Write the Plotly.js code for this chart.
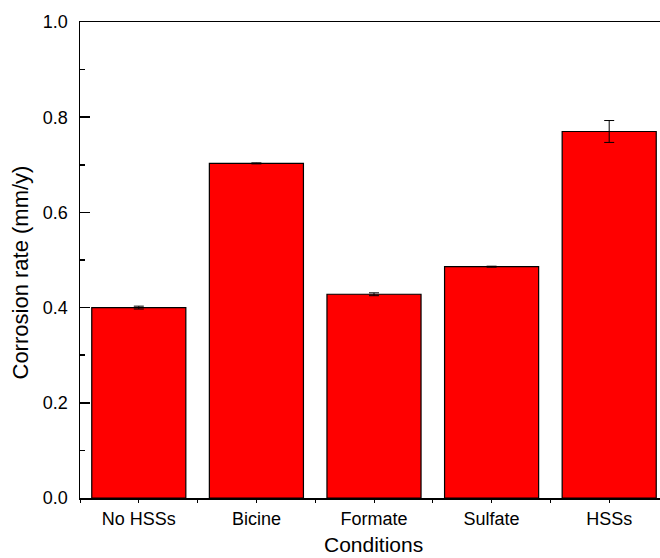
<!DOCTYPE html>
<html>
<head>
<meta charset="utf-8">
<script src="https://cdn.plot.ly/plotly-3.0.1.min.js"></script>
<style>
html, body { margin: 0; padding: 0; overflow: hidden; background: #fff; width: 660px; height: 558px; }
#chart { width: 672px; height: 558px; }
</style>
</head>
<body>
<div id="chart"></div>
<script>
const categories = ["No HSSs", "Bicine", "Formate", "Sulfate", "HSSs"];
const corrosionRate = [0.400, 0.703, 0.428, 0.486, 0.770];
const errorValues = [0.003, 0.001, 0.003, 0.001, 0.023];
const positions = categories.map((c, i) => i);
const yTickVals = [0, 0.2, 0.4, 0.6, 0.8, 1.0];
const xTitle = "Conditions";
const yTitle = "Corrosion rate (mm/y)";

const font = "Liberation Sans, Arial, sans-serif";

const trace = {
  type: "bar",
  x: positions,
  y: corrosionRate,
  width: 0.8,
  marker: { color: "#FF0000", line: { color: "#000000", width: 1.2 } },
  error_y: { type: "data", array: errorValues, visible: true, color: "#000000", thickness: 1, width: 5 },
  hoverinfo: "x+y"
};

const layout = {
  width: 672,
  height: 558,
  margin: { l: 80, r: 4, t: 22, b: 60 },
  paper_bgcolor: "#ffffff",
  plot_bgcolor: "#ffffff",
  showlegend: false,
  font: { family: font, color: "#000000", size: 18 },
  xaxis: {
    range: [-0.5, 4.5],
    tickvals: positions,
    ticktext: categories,
    ticks: "outside",
    ticklen: 3,
    tickwidth: 1,
    tickcolor: "#000",
    minor: { tick0: 0.5, dtick: 1, ticks: "outside", ticklen: 3, tickwidth: 1, tickcolor: "#000" },
    showline: true,
    linecolor: "#000",
    linewidth: 1.5,
    mirror: true,
    showgrid: false,
    zeroline: false,
    tickfont: { family: font, size: 18 },
    ticklabelstandoff: 1,
    fixedrange: true
  },
  yaxis: {
    range: [0, 1],
    tickvals: yTickVals,
    tickformat: ".1f",
    ticks: "inside",
    ticklen: 10,
    tickwidth: 1.5,
    tickcolor: "#000",
    minor: { dtick: 0.1, ticks: "inside", ticklen: 5, tickwidth: 1.5, tickcolor: "#000" },
    showline: true,
    linecolor: "#000",
    linewidth: 1.5,
    mirror: true,
    showgrid: false,
    zeroline: false,
    tickfont: { family: font, size: 18 },
    ticklabelstandoff: 7,
    fixedrange: true
  },
  annotations: [{
    text: yTitle,
    xref: "paper", yref: "paper",
    x: 0, y: 0.5,
    xanchor: "right", yanchor: "middle",
    xshift: -46, yshift: -13,
    textangle: -90,
    showarrow: false,
    font: { family: font, size: 22, color: "#000" }
  }, {
    text: xTitle,
    xref: "paper", yref: "paper",
    x: 0.5, y: 0,
    xanchor: "center", yanchor: "top",
    xshift: -1, yshift: -33,
    showarrow: false,
    font: { family: font, size: 21, color: "#000" }
  }],
  bargap: 0.2
};

Plotly.newPlot("chart", [trace], layout, { displayModeBar: false, staticPlot: true });
</script>
</body>
</html>
